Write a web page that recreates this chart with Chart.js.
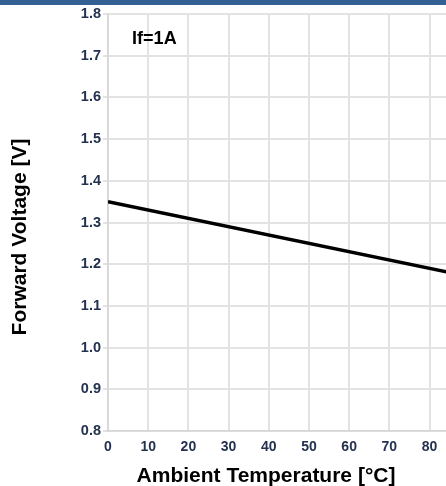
<!DOCTYPE html>
<html>
<head>
<meta charset="utf-8">
<script src="https://cdn.jsdelivr.net/npm/chart.js@4.4.1/dist/chart.umd.min.js"></script>
<style>
  html, body { margin: 0; padding: 0; background: #ffffff; }
  #wrap { position: relative; width: 446px; height: 486px; overflow: hidden; }
  #bar { position: absolute; left: 0; top: 0; width: 446px; height: 5px; background: #335f92; z-index: 2; }
  canvas { position: absolute; left: 0; top: 0; }
</style>
</head>
<body>
<div id="wrap">
  <div id="bar"></div>
  <canvas id="c" width="446" height="486"></canvas>
</div>
<script>
// ---- data ----
const temperatures = [0, 85];          // Ambient Temperature [°C]
const forwardVoltage = [1.35, 1.18];   // Forward Voltage [V] at If=1A
const xTickValues = [0, 10, 20, 30, 40, 50, 60, 70, 80];
const yTickValues = [0.8, 0.9, 1.0, 1.1, 1.2, 1.3, 1.4, 1.5, 1.6, 1.7, 1.8];
const xTitle = 'Ambient Temperature [°C]';
const yTitle = 'Forward Voltage [V]';
const annotationText = 'If=1A';

const FONT = '"Liberation Sans", Arial, sans-serif';
const TICK_COLOR = '#243250';
const GRID_COLOR = '#e3e3e3';

const labelsPlugin = {
  id: 'labelsPlugin',
  afterDraw(chart) {
    const ctx = chart.ctx;
    const xs = chart.scales.x, ys = chart.scales.y;
    ctx.save();
    ctx.fillStyle = '#000';
    // annotation
    ctx.font = 'bold 18px ' + FONT;
    ctx.textAlign = 'left';
    ctx.textBaseline = 'alphabetic';
    ctx.fillText(annotationText, xs.getPixelForValue(6.0), ys.getPixelForValue(1.728));
    // x title
    ctx.font = 'bold 21px ' + FONT;
    ctx.textAlign = 'center';
    ctx.fillText(xTitle, 266, 482);
    // y title
    ctx.translate(26, 237);
    ctx.rotate(-Math.PI / 2);
    ctx.fillText(yTitle, 0, 0);
    ctx.restore();
  }
};

new Chart(document.getElementById('c'), {
  type: 'line',
  data: {
    datasets: [{
      data: temperatures.map((t, i) => ({ x: t, y: forwardVoltage[i] })),
      borderColor: '#000000',
      borderWidth: 3.5,
      pointRadius: 0,
      tension: 0,
      fill: false
    }]
  },
  options: {
    responsive: false,
    animation: false,
    devicePixelRatio: 1,
    layout: { padding: { top: 14, right: 0, left: 0, bottom: 0 } },
    plugins: { legend: { display: false }, tooltip: { enabled: false }, title: { display: false } },
    scales: {
      x: {
        type: 'linear',
        min: 0,
        max: 84.1,
        afterBuildTicks: s => { s.ticks = xTickValues.map(v => ({ value: v })); },
        afterFit: s => { s.height = 55; },
        grid: { color: GRID_COLOR, lineWidth: 2, drawTicks: false },
        border: { color: '#d6d6d6', width: 1.5 },
        ticks: {
          padding: 8,
          color: TICK_COLOR,
          font: { family: FONT, size: 14, weight: 'bold' },
          callback: v => String(v)
        }
      },
      y: {
        type: 'linear',
        min: 0.8,
        max: 1.8,
        afterBuildTicks: s => { s.ticks = yTickValues.map(v => ({ value: v })); },
        afterFit: s => { s.width = 108; },
        grid: { color: GRID_COLOR, lineWidth: 2, tickLength: 5 },
        border: { color: '#d6d6d6', width: 1.5 },
        ticks: {
          padding: 2,
          color: TICK_COLOR,
          font: { family: FONT, size: 14.5, weight: 'bold' },
          callback: v => Number(v).toFixed(1)
        }
      }
    }
  },
  plugins: [labelsPlugin]
});
</script>
</body>
</html>
